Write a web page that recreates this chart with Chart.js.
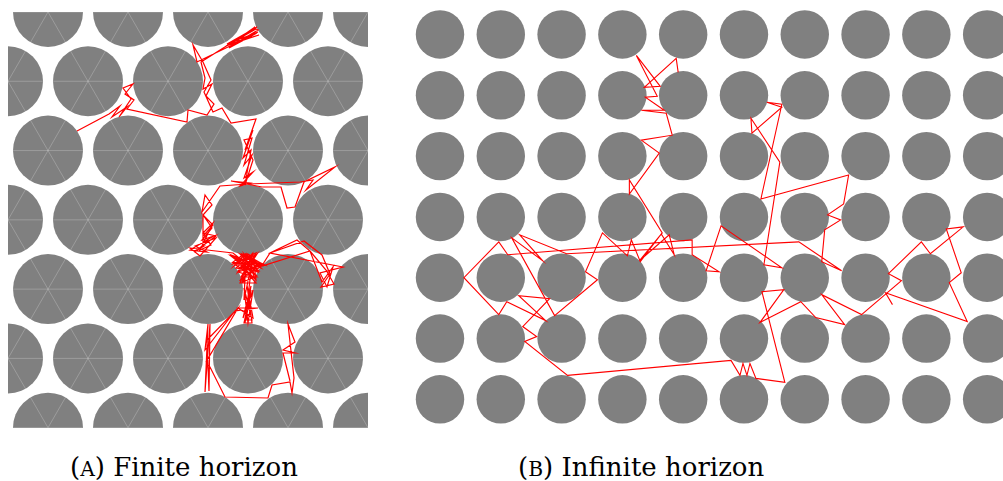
<!DOCTYPE html>
<html><head><meta charset="utf-8">
<script src="https://cdn.jsdelivr.net/npm/chart.js@4.4.0/dist/chart.umd.min.js"></script>
<style>
html,body{margin:0;padding:0;background:#fff;width:1003px;height:481px;overflow:hidden;}
canvas{position:absolute;}
#ca{left:8px;top:12px;width:360px;height:416px;}
#cb{left:409px;top:0px;width:594px;height:440px;}
.cap{position:absolute;top:452px;font-family:"DejaVu Serif",serif;font-size:26px;color:#000;white-space:nowrap;line-height:30px;}
.sc{font-size:0.78em;}
</style></head><body>
<canvas id="ca" width="360" height="416"></canvas>
<canvas id="cb" width="594" height="440"></canvas>
<div class="cap" style="left:70px">(<span class="sc">A</span>) Finite horizon</div>
<div class="cap" style="left:518px">(<span class="sc">B</span>) Infinite horizon</div>
<script>
// ---------- Panel A : triangular (hexagonal) lattice, finite horizon ----------
const hexRowsA = [0, 1, 2, 3, 4, 5, 6];        // row index
const hexColsA = [0, 1, 2, 3, 4];              // column index
const spacingA = 80;                           // centre-to-centre distance
const rowStepA = 69.28;                        // spacing * sqrt(3)/2
const radiusA = 35;                            // scatterer radius
const extentA = {x: 360, y: 416};
const diagOffsetsA = [-200, -120, -40, 40, 120, 200, 280, 360];  // lattice lines, +60 deg
const antiOffsetsA = [40, 120, 200, 280, 360, 440, 520];          // lattice lines, -60 deg

const finitePath = [
[69,119],[101,102],[112,94],[104,105],[119,95],[111,105],[123,87],[115,76],[125,72],[117,82],[126,88],[119,97],
[179,110],[180,98],[199,103],[206,92],[198,84],[204,72],[195,77],[197,66],[193,50],[220,33],[249,15],[219,32],
[250,20],[221,35],[244,24],[223,34],[250,18],
[248,17],[218,34],[251,23],[224,31],[247,15],[221,36],[249,21],
[189,50],[185,33],[195,50],[203,68],[196,80],[205,100],[214,96],
[223,111],[248,107],[237,138],
[245,118],[235,146],[243,138],[237,173],[245,148],[236,128],
[244,126],[236,153],[244,143],[236,166],[245,160],[232,174],[242,171],[223,169],
[254,175],[273,175],[279,196],[287,195],[296,170],[327,155],[298,178],[305,168],[292,170],[240,172],[212,174],
[194,200],
[197,183],[204,193],[195,203],[205,213],[196,223],[203,233],[192,238],
[205,211],[195,221],[208,224],[186,240],[196,234],
[195,203],[204,216],[194,228],[206,224],[182,238],[199,240],[187,234],[208,226],[192,244],
[182,236],[225,241],
[249,260],[232,242],[254,253],[225,252],[248,241],[233,265],[247,265],[230,260],[255,252],[262,241],[289,228],
[302,239],[314,270],[325,255],[319,275],[312,261],[335,255],
[262,241],[296,229],[314,243],[322,262],[313,275],[326,272],[318,258],
[302,239],[254,254],[236,242],[225,250],[250,260],
[239,242],[234,271],[245,242],[248,268],[223,243],[254,254],[231,258],[244,242],[235,270],[249,264],[228,246],
[256,253],[237,242],[226,254],[242,243],
[240,242],[230,260],[249,242],[233,267],[254,254],[225,251],[247,266],[236,242],[251,259],[228,256],[244,242],
[232,271],[248,271],[227,246],[255,252],[234,242],[247,263],[223,244],[253,256],[238,242],
[236,288],[244,250],
[237,311],[243,274],[235,306],[245,278],[240,311],[236,276],[244,308],
[238,308],[243,278],[236,311],[244,311],[239,273],[245,306],[230,296],[250,296],[227,299],
[197,338],[200,312],[197,380],[202,312],[201,379],[199,328],[230,296],[198,350],[202,355],[217,385],[260,386],
[264,373],[282,370],[284,381],[286,366],[280,312],[287,330],[275,338],[287,341],[275,341],[282,369]
];

// ---------- Panel B : square lattice, infinite horizon ----------
const sqColsB = [0, 1, 2, 3, 4, 5, 6, 7, 8, 9];
const sqRowsB = [0, 1, 2, 3, 4, 5, 6];
const spacingB = 61;
const radiusB = 24.3;
const rangeB = {xmin: -31.1, xmax: 564.9, ymin: -34.6, ymax: 406.8};

const infinitePath = [
[239,38],[237,24],[205,53],[221,52],[197,21],[218,62],[206,63],[225,76],[202,76],[227,79],[233,101],[202,106],
[220,119],[190,160],[190,146],[223,199],[200,227],[230,201],[235,221],[222,200],[201,228],[192,206],[188,222],
[163,199],[146,238],[158,246],[115,282],[72,204],[103,227],[80,201],[127,220],[360,208],[403,237],[383,228],
[386,196],[402,186],[389,181],[405,170],[410,141],[322,165],[343,70],[328,68],[343,73],[313,99],[312,84],
[341,128],[325,231],[343,234],[282,192],[267,237],[280,238],[253,221],[253,206],[68,221],[59,208],[24,244],
[59,281],[67,268],[106,287],[79,262],[110,265],[83,293],[97,303],[85,308],[128,342],[292,327],[301,342],
[304,330],[308,342],[311,330],[317,345],[346,349],[323,258],[345,256],[321,289],[362,268],[377,284],[406,291],
[383,261],[423,281],[463,247],[450,240],[483,208],[492,220],[525,193],[508,195],[523,239],[511,249],[529,288],
[447,259],[454,271]
];

// ---------- helpers ----------
function pxRadius(chart, r) {
  const sx = chart.scales.x;
  return Math.abs(sx.getPixelForValue(r) - sx.getPixelForValue(0));
}
function segment(x1, y1, x2, y2) {
  return {
    data: [{x: x1, y: y1}, {x: x2, y: y2}],
    showLine: true, borderColor: 'rgba(255,255,255,0.22)', borderWidth: 1,
    pointRadius: 0, clip: 0, order: 1
  };
}
const commonOptions = (xmin, xmax, ymin, ymax) => ({
  responsive: false, animation: false, events: [],
  layout: {padding: 0},
  plugins: {legend: {display: false}, tooltip: {enabled: false}, title: {display: false}},
  scales: {
    x: {type: 'linear', min: xmin, max: xmax, display: false},
    y: {type: 'linear', min: ymin, max: ymax, reverse: true, display: false}
  }
});

// Panel A data
const circlesA = [];
hexRowsA.forEach(j => hexColsA.forEach(k => {
  const x = (j % 2 === 0 ? spacingA / 2 : 0) + k * spacingA;
  circlesA.push({x: x, y: j * rowStepA});
}));
const latticeA = [];
hexRowsA.forEach(j => latticeA.push(segment(0, j * rowStepA, extentA.x, j * rowStepA)));
const slope = (spacingA / 2) / rowStepA;
const yEnd = rowStepA * 6;
diagOffsetsA.forEach(c => latticeA.push(segment(c, 0, c + slope * yEnd, yEnd)));
antiOffsetsA.forEach(c => latticeA.push(segment(c, 0, c - slope * yEnd, yEnd)));

new Chart(document.getElementById('ca'), {
  type: 'scatter',
  data: {datasets: [
    {label: 'trajectory', data: finitePath.map(p => ({x: p[0], y: p[1]})), showLine: true,
     borderColor: '#ff0000', borderWidth: 1.2, pointRadius: 0, tension: 0, clip: 0, order: 0},
    ...latticeA,
    {label: 'scatterers', data: circlesA, showLine: false,
     pointRadius: c => pxRadius(c.chart, radiusA), pointHoverRadius: c => pxRadius(c.chart, radiusA),
     pointBackgroundColor: '#808080', pointBorderWidth: 0, pointBorderColor: '#808080', clip: 0, order: 2}
  ]},
  options: commonOptions(0, extentA.x, 0, extentA.y)
});

// Panel B data
const circlesB = [];
sqRowsB.forEach(j => sqColsB.forEach(k => circlesB.push({x: k * spacingB, y: j * spacingB})));

new Chart(document.getElementById('cb'), {
  type: 'scatter',
  data: {datasets: [
    {label: 'trajectory', data: infinitePath.map(p => ({x: p[0], y: p[1]})), showLine: true,
     borderColor: '#ff0000', borderWidth: 1.1, pointRadius: 0, tension: 0, clip: false, order: 0},
    {label: 'scatterers', data: circlesB, showLine: false,
     pointRadius: c => pxRadius(c.chart, radiusB), pointHoverRadius: c => pxRadius(c.chart, radiusB),
     pointBackgroundColor: '#808080', pointBorderWidth: 0, pointBorderColor: '#808080', clip: false, order: 2}
  ]},
  options: commonOptions(rangeB.xmin, rangeB.xmax, rangeB.ymin, rangeB.ymax)
});
</script>
</body></html>
